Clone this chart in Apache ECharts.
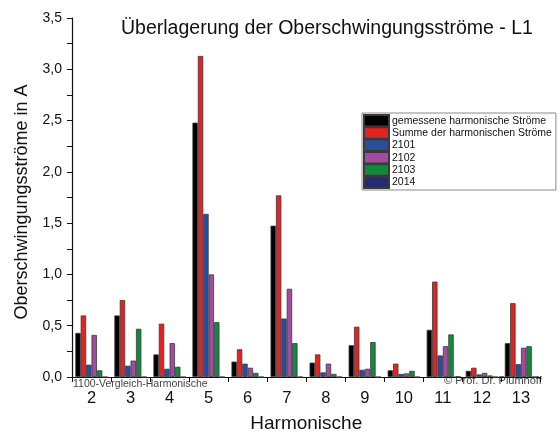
<!DOCTYPE html>
<html><head><meta charset="utf-8">
<script src="https://cdn.jsdelivr.net/npm/echarts@6/dist/echarts.min.js"></script>
<style>html,body{margin:0;padding:0;background:#fff}#c{width:560px;height:432px}</style>
</head><body><div id="c"></div>
<script>
var categories = ['2','3','4','5','6','7','8','9','10','11','12','13'];
var seriesNames = ['gemessene harmonische Ströme','Summe der harmonischen Ströme','2101','2102','2103','2014'];
var gemessen = [0.43,0.60,0.22,2.48,0.15,1.475,0.14,0.31,0.065,0.46,0.06,0.33];
var summe    = [0.60,0.75,0.52,3.13,0.27,1.77,0.22,0.49,0.13,0.93,0.09,0.72];
var s2101    = [0.12,0.11,0.08,1.59,0.13,0.57,0.045,0.07,0.03,0.21,0.025,0.125];
var s2102    = [0.41,0.16,0.33,1.00,0.09,0.86,0.13,0.08,0.035,0.30,0.04,0.285];
var s2103    = [0.065,0.47,0.10,0.535,0.04,0.33,0.03,0.34,0.06,0.415,0.015,0.30];
var s2014    = [0,0,0,0,0,0,0,0,0,0,0,0];
var colors = ['#000000','#e32222','#2b4d9f','#a04c9f','#128a3e','#252c6b'];
var values = [gemessen, summe, s2101, s2102, s2103, s2014];

var chart = echarts.init(document.getElementById('c'), null, {renderer:'canvas'});
var font = 'Liberation Sans, Arial, sans-serif';
var series = values.map(function(v,i){
  return {
    name: seriesNames[i], type:'bar', data:v,
    barGap:'0%', barCategoryGap:'17%',
    itemStyle:{color:colors[i], borderColor:'#3a3a3a', borderWidth:0.8},
    emphasis:{disabled:true}, animation:false
  };
});
chart.setOption({
  animation:false,
  title:{text:'Überlagerung der Oberschwingungsströme - L1', left:116, top:14,
    textStyle:{fontFamily:font, fontSize:19.5, fontWeight:'normal', color:'#111'}},
  legend:{orient:'vertical', left:362, top:113, itemWidth:25, itemHeight:11.5, itemGap:-1.2,
    padding:[1,4,1,1], borderColor:'#8a8a8a', borderWidth:1, backgroundColor:'#fff',
    textStyle:{fontFamily:font, fontSize:10.5, color:'#111', padding:[0,0,0,-2]},
    data: seriesNames.map(function(n){return {name:n, icon:'rect'};})},
  grid:{left:72, right:19.5, top:18, bottom:55, containLabel:false, outerBoundsMode:'none'},
  xAxis:{type:'category', data:categories, name:'Harmonische', nameLocation:'middle', nameGap:37,
    nameTextStyle:{fontFamily:font, fontSize:19, color:'#111'},
    axisLine:{lineStyle:{color:'#111', width:1.2}},
    axisTick:{show:true, inside:false, length:5, lineStyle:{color:'#111'}},
    axisLabel:{fontFamily:font, fontSize:16.5, color:'#111', margin:13}},
  yAxis:{type:'value', min:0, max:3.5, interval:0.25,
    splitLine:{show:false},
    axisLine:{show:true, lineStyle:{color:'#111', width:1.2}},
    axisTick:{show:true, length:5, lineStyle:{color:'#111'}},
    axisLabel:{fontFamily:font, fontSize:14, color:'#111', margin:10,
      formatter:function(v){ var r=Math.round(v*100); return (r%50===0)?(v.toFixed(1).replace('.',',')):''; }}},
  graphic:[
    {type:'text', x:22, y:202, rotation:Math.PI/2,
      style:{text:'Oberschwingungsströme in A', font:'18px '+font, fill:'#111', align:'center', verticalAlign:'middle'}},
    {type:'text', x:73, y:384,
      style:{text:'1100-Vergleich-Harmonische', font:'10.5px '+font, fill:'#444', align:'left', verticalAlign:'middle'}},
    {type:'text', x:444, y:381,
      style:{text:'© Prof. Dr. Plumhoff', font:'11px '+font, fill:'#444', align:'left', verticalAlign:'middle'}}
  ],
  series:series
});
</script></body></html>
